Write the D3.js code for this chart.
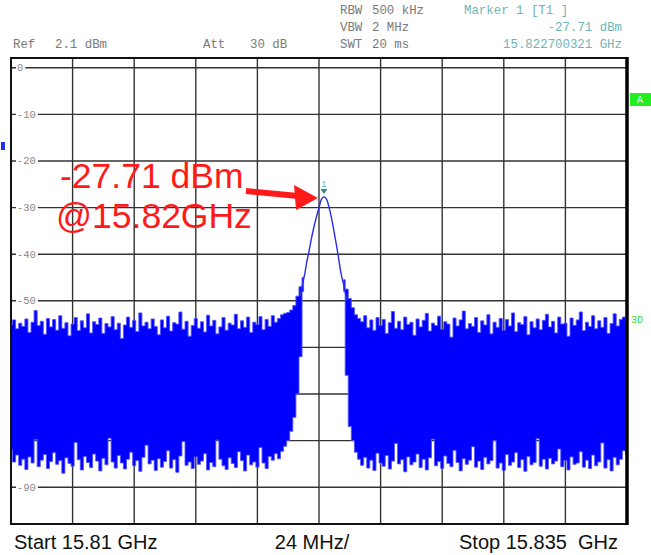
<!DOCTYPE html>
<html>
<head>
<meta charset="utf-8">
<script src="https://cdn.jsdelivr.net/npm/d3@7.9.0/dist/d3.min.js"></script>
<style>
  body { margin: 0; background: #fff; }
  svg { display: block; }
</style>
</head>
<body>
<div id="chart"></div>
<script>
// sweep settings
const startGHz = 15.81
const stopGHz = 15.835
const refLevel = 2.1
const dbPerDiv = 10

// y grid labels
const levelTicks = [0, -10, -20, -30, -40, -50, -60, -70, -80, -90]
const levelLabels = ["0", "-10", "-20", "-30", "-40", "-50", "", "", "", "-90"]

// max-hold envelope of the noise, one value per bin (201 bins over the span), null under the main lobe
const noiseMax = [
  -55.2,-54.1,-56.0,-54.8,-55.5,-53.9,-56.8,-54.6,-52.1,-55.3,
  -54.4,-57.2,-53.8,-55.6,-54.0,-56.3,-53.2,-55.9,-54.7,-57.5,
  -55.0,-53.6,-56.4,-54.3,-55.8,-52.8,-56.9,-54.5,-55.1,-53.7,
  -57.0,-54.9,-55.6,-53.4,-56.2,-54.8,-58.1,-55.2,-53.5,-55.7,
  -54.2,-56.6,-52.6,-55.4,-54.6,-56.0,-53.9,-55.5,-57.3,-54.1,
  -55.8,-53.3,-56.5,-54.7,-55.0,-52.4,-56.1,-54.4,-57.6,-55.3,
  -53.8,-55.9,-54.5,-56.7,-53.1,-55.4,-54.2,-57.1,-55.6,-53.6,
  -56.3,-54.8,-55.2,-52.9,-56.0,-54.3,-55.7,-53.5,-56.8,-54.6,
  -55.1,-53.4,-56.2,-54.0,-55.5,-53.2,-54.6,-53.8,-53.0,-52.7,
  -52.5,-52.0,-51.0,-49.0,-47.0,-45.0,
  null,null,null,null,null,null,null,null,null,null,null,null,
  -45.5,-47.5,-49.5,-51.5,-53.0,-53.8,
  -54.5,-53.2,-55.8,-54.1,-56.4,-53.6,
  -55.3,-54.0,-57.0,-54.7,-52.3,-55.9,-54.4,-56.2,-53.5,-55.1,
  -54.6,-57.4,-53.9,-55.6,-54.2,-52.7,-56.5,-54.8,-55.3,-53.3,
  -56.1,-54.5,-55.0,-57.8,-53.7,-55.4,-54.1,-52.2,-56.0,-54.9,
  -55.5,-53.6,-56.8,-54.3,-55.2,-53.0,-57.1,-54.6,-55.7,-53.8,
  -56.3,-54.0,-55.4,-52.6,-56.6,-54.7,-55.1,-53.4,-57.3,-54.5,
  -55.8,-53.9,-56.2,-54.2,-52.9,-55.6,-54.4,-56.9,-53.5,-55.0,
  -54.8,-57.6,-53.7,-55.3,-54.1,-52.4,-56.4,-54.6,-55.5,-53.2,
  -56.0,-54.3,-55.7,-53.6,-57.0,-54.9,-52.8,-55.4,-54.0,-53.5,
  -55.0
]

// min-hold envelope of the noise, same bins
const noiseMin = [
  -82.0,-84.6,-83.1,-85.3,-84.0,-86.2,-83.5,-84.8,-79.8,-85.6,
  -84.2,-83.0,-86.0,-84.5,-82.6,-85.1,-84.3,-87.0,-83.7,-84.9,
  -85.5,-80.4,-84.1,-86.3,-83.4,-84.7,-85.8,-82.9,-84.4,-86.5,
  -83.8,-85.2,-79.5,-84.6,-85.9,-83.2,-84.8,-86.1,-84.0,-82.5,
  -85.4,-84.3,-86.6,-83.6,-81.0,-85.0,-84.2,-86.4,-83.9,-85.7,
  -84.5,-82.2,-85.9,-84.1,-86.8,-83.3,-80.2,-85.3,-84.6,-86.0,
  -83.5,-85.1,-84.4,-82.8,-86.3,-84.7,-85.6,-79.9,-84.0,-85.4,
  -86.2,-83.7,-84.9,-85.8,-82.4,-84.3,-86.5,-83.1,-85.2,-84.6,
  -85.7,-81.5,-84.8,-86.0,-83.4,-84.2,-82.8,-83.9,-82.3,-81.2,
  -80.0,-78.0,-75.0,-70.0,-62.0,-48.0,
  null,null,null,null,null,null,null,null,null,null,null,null,
  -48.0,-66.0,-77.0,-80.0,-82.5,-84.0,
  -85.3,-83.6,-85.9,-84.2,-86.4,-82.7,
  -84.8,-85.5,-83.2,-86.1,-84.4,-80.6,-85.0,-84.1,-86.7,-83.5,
  -85.2,-84.6,-82.9,-85.8,-84.0,-86.3,-83.7,-79.7,-85.4,-84.5,
  -86.0,-83.3,-84.9,-85.6,-82.1,-84.7,-86.5,-83.9,-85.1,-84.2,
  -81.3,-85.7,-84.4,-86.2,-83.6,-85.0,-84.3,-80.0,-85.9,-84.8,
  -86.4,-83.0,-85.3,-84.6,-82.6,-85.8,-84.1,-86.6,-83.4,-85.2,
  -84.7,-79.6,-85.5,-84.0,-86.1,-83.8,-85.0,-84.4,-81.8,-85.6,
  -84.3,-86.3,-83.5,-85.1,-84.8,-82.4,-85.7,-84.2,-86.0,-83.1,
  -85.4,-84.6,-80.5,-85.9,-84.1,-86.5,-83.6,-85.2,-84.0,-82.2,
  -83.0
]

// the carrier itself
const peakFreqs = [15.82173, 15.82185, 15.82193, 15.82201, 15.82209, 15.82218, 15.82230,
  15.82242, 15.82250, 15.82258, 15.822700321, 15.82283, 15.82291, 15.82299, 15.82307,
  15.82319, 15.82327, 15.82339, 15.82352, 15.82364]
const peakLevels = [-49.0, -46.0, -44.0, -41.5, -39.5, -37.0, -34.0,
  -31.5, -30.0, -28.5, -27.71, -28.5, -30.0, -31.8, -34.0,
  -37.5, -40.0, -44.0, -47.0, -50.0]

const markerFreq = 15.822700321
const markerLevel = -27.71

const width = 651
const height = 555
const plot = {left: 11, right: 627, top: 58, bottom: 524}

const x = d3.scaleLinear([startGHz, stopGHz], [plot.left, plot.right])
const y = d3.scaleLinear([refLevel - 10 * dbPerDiv, refLevel], [plot.bottom, plot.top])

const svg = d3.select("#chart").append("svg")
    .attr("width", width)
    .attr("height", height)
    .attr("viewBox", [0, 0, width, height])
    .style("font-family", "'Liberation Mono', 'DejaVu Sans Mono', monospace")

svg.append("rect").attr("width", width).attr("height", height).attr("fill", "#fff")

// header block
const grey = "#7a7a7a"
const teal = "#6fb5b5"
const header = svg.append("g").attr("font-size", 12.4).attr("fill", grey)
header.append("text").attr("x", 13).attr("y", 48).text("Ref")
header.append("text").attr("x", 55).attr("y", 48).text("2.1 dBm")
header.append("text").attr("x", 203).attr("y", 48).text("Att")
header.append("text").attr("x", 250).attr("y", 48).text("30 dB")
header.append("text").attr("x", 340).attr("y", 14).text("RBW")
header.append("text").attr("x", 372).attr("y", 14).text("500 kHz")
header.append("text").attr("x", 340).attr("y", 31).text("VBW")
header.append("text").attr("x", 372).attr("y", 31).text("2 MHz")
header.append("text").attr("x", 340).attr("y", 48).text("SWT")
header.append("text").attr("x", 372).attr("y", 48).text("20 ms")
header.append("text").attr("x", 464).attr("y", 14).attr("fill", teal).text("Marker 1 [T1 ]")
header.append("text").attr("x", 622).attr("y", 31).attr("fill", teal).attr("text-anchor", "end").text(`${markerLevel} dBm`)
header.append("text").attr("x", 622).attr("y", 48).attr("fill", teal).attr("text-anchor", "end").text(`${markerFreq} GHz`)

const clipId = "plotclip"
svg.append("clipPath").attr("id", clipId)
  .append("rect")
    .attr("x", plot.left).attr("y", plot.top)
    .attr("width", plot.right - plot.left).attr("height", plot.bottom - plot.top)

// grid
const divFreqs = d3.range(11).map(i => startGHz + i * (stopGHz - startGHz) / 10)
const grid = svg.append("g").attr("stroke", "#333").attr("stroke-width", 1.4)
grid.selectAll("line.v")
  .data(divFreqs.slice(1, -1))
  .join("line")
    .attr("class", "v")
    .attr("x1", d => x(d)).attr("x2", d => x(d))
    .attr("y1", plot.top).attr("y2", plot.bottom)
grid.selectAll("line.h")
  .data(levelTicks)
  .join("line")
    .attr("class", "h")
    .attr("x1", plot.left).attr("x2", plot.right)
    .attr("y1", d => y(d)).attr("y2", d => y(d))

// level labels sit on the lines
const lab = svg.append("g").attr("font-size", 10.5).attr("fill", "#888")
levelTicks.forEach((v, i) => {
  if (!levelLabels[i]) return
  const w = levelLabels[i].length * 6.3 + 3
  lab.append("rect").attr("x", 16).attr("y", y(v) - 3).attr("width", w).attr("height", 6).attr("fill", "#fff")
  lab.append("text").attr("x", 17).attr("y", y(v) + 3.5).text(levelLabels[i])
})

// noise floor as max/min envelope
const bins = noiseMax.map((hi, i) => ({
  f: startGHz + i * (stopGHz - startGHz) / (noiseMax.length - 1),
  hi, lo: noiseMin[i]
}))
const area = d3.area()
    .defined(d => d.hi != null)
    .curve(d3.curveStep)
    .x(d => x(d.f))
    .y0(d => y(d.lo))
    .y1(d => y(d.hi))

svg.append("path")
    .attr("clip-path", `url(#${clipId})`)
    .attr("fill", "#0000ff")
    .attr("stroke", "#5555ff")
    .attr("stroke-width", 0.9)
    .attr("d", area(bins))

const line = d3.line()
    .x(i => x(peakFreqs[i]))
    .y(i => y(peakLevels[i]))
    .curve(d3.curveMonotoneX)

svg.append("path")
    .attr("fill", "none")
    .attr("stroke", "#2a2ae6")
    .attr("stroke-width", 1.4)
    .attr("d", line(d3.range(peakFreqs.length)))

// frame
svg.append("rect")
    .attr("x", plot.left).attr("y", plot.top)
    .attr("width", plot.right - plot.left).attr("height", plot.bottom - plot.top)
    .attr("fill", "none").attr("stroke", "#111").attr("stroke-width", 2)
svg.append("line")
    .attr("x1", plot.right).attr("x2", plot.right)
    .attr("y1", plot.top - 1).attr("y2", plot.bottom + 1)
    .attr("stroke", "#000").attr("stroke-width", 3.5)

// marker
const mx = x(markerFreq), my = y(markerLevel)
svg.append("path")
    .attr("d", `M${mx - 3.5},${my - 8}L${mx + 3.5},${my - 8}L${mx},${my - 3}Z`)
    .attr("fill", "#2a8c8c")
svg.append("text")
    .attr("x", mx).attr("y", my - 10)
    .attr("text-anchor", "middle").attr("font-size", 9).attr("fill", teal)
    .text("1")

// side flags
svg.append("rect").attr("x", 1).attr("y", 142).attr("width", 4).attr("height", 8).attr("fill", "#2233ee")
svg.append("rect").attr("x", 630).attr("y", 93).attr("width", 21).attr("height", 13).attr("fill", "#22ee22")
svg.append("text").attr("x", 637).attr("y", 103).attr("font-size", 10).attr("fill", "#eaffea").text("A")
svg.append("text").attr("x", 631).attr("y", 323).attr("font-size", 10).attr("fill", "#33dd33").text("3D")

// annotation
const red = "#ff1a1a"
const note = svg.append("g")
    .style("font-family", "'Liberation Sans', Arial, sans-serif")
    .attr("fill", red).attr("font-size", 35.5)
note.append("text").attr("x", 60).attr("y", 188).text(`${markerLevel} dBm`)
note.append("text").attr("x", 56).attr("y", 228).text("@15.82GHz")

svg.append("line")
    .attr("x1", 246).attr("y1", 191)
    .attr("x2", 298).attr("y2", 196)
    .attr("stroke", red).attr("stroke-width", 6)
svg.append("path")
    .attr("d", `M${mx - 6},198L294,185L296,210Z`)
    .attr("fill", red)

// bottom labels
const foot = svg.append("g")
    .style("font-family", "'Liberation Sans', Arial, sans-serif")
    .attr("font-size", 20).attr("fill", "#111")
foot.append("text").attr("x", 14).attr("y", 549).text(`Start ${startGHz} GHz`)
foot.append("text").attr("x", 312).attr("y", 549).attr("text-anchor", "middle").text("24 MHz/")
foot.append("text").attr("x", 618).attr("y", 549).attr("text-anchor", "end").style("white-space", "pre").text(`Stop ${stopGHz}  GHz`)
</script>
</body>
</html>
